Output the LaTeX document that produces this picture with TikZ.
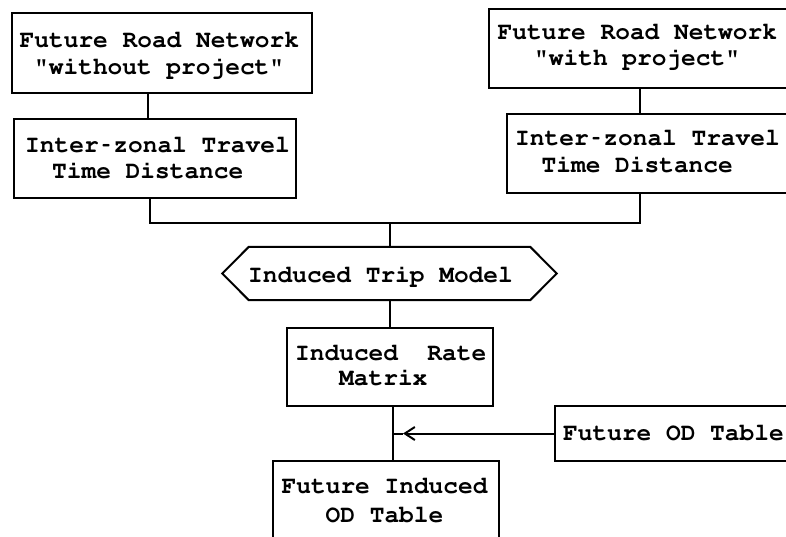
\documentclass[tikz,border=0pt]{standalone}
\usepackage[T1]{fontenc}
\usepackage{courier}
\usetikzlibrary{arrows.meta}

% short typewriter hyphen, one character cell wide
\newcommand{\twhyph}{\makebox[0.6em]{\scalebox{0.55}[1]{-}}}

\tikzset{
  box/.style={draw, line width=2pt, rectangle, inner sep=0pt},
  hexframe/.style={line width=2pt, line join=miter},
  lbl/.style={anchor=base west, inner sep=0pt,
    font=\fontsize{24.5}{27}\selectfont\ttfamily\bfseries},
  link/.style={line width=2pt},
}

\begin{document}
\begin{tikzpicture}[x=1pt,y=-1pt]
\useasboundingbox (0,0) rectangle (786,536);
\fill[white] (0,0) rectangle (786,536);
\clip (0,0) rectangle (786,536);

% boxes
\node[box, minimum width=300pt, minimum height=80pt] (A) at (162,53) {};
\node[box, minimum width=282pt, minimum height=79pt] (B) at (155,158.5) {};
\node[box, minimum width=321pt, minimum height=79pt] (C) at (649.5,48.5) {};
\node[box, minimum width=303pt, minimum height=79pt] (D) at (658.5,153.5) {};
\node[rectangle, inner sep=0pt, minimum width=281pt, minimum height=53pt] (H) at (389.5,273.5) {};
\draw[hexframe] (H.north west) -- (H.north east) -- ([xshift=26.5pt]H.east)
  -- (H.south east) -- (H.south west) -- ([xshift=-26.5pt]H.west) -- cycle;
\node[box, minimum width=206pt, minimum height=78pt] (E) at (390,367) {};
\node[box, minimum width=226pt, minimum height=109pt] (F) at (386,515.5) {};
\node[box, minimum width=255pt, minimum height=55pt] (G) at (682.5,433.5) {};

% labels
\node[lbl] (A1) at (19.5,47) {Future Road Network};
\node[lbl] (A2) at (34,74) {"without project"};
\node[lbl] (B1) at (25,152) {Inter\twhyph zonal Travel};
\node[lbl] (B2) at (52,178) {Time Distance};
\node[lbl] (C1) at (497.5,39) {Future Road Network};
\node[lbl] (C2) at (534,65) {"with project"};
\node[lbl] (D1) at (515,145) {Inter\twhyph zonal Travel};
\node[lbl] (D2) at (541.5,172) {Time Distance};
\node[lbl] (H1) at (248,282) {Induced Trip Model};
\node[lbl] (E1) at (295,360) {Induced\ \ Rate};
\node[lbl] (E2) at (339,385) {Matrix};
\node[lbl] (F1) at (281.5,493) {Future Induced};
\node[lbl] (F2) at (325.5,522) {OD Table};
\node[lbl] (G1) at (563,440) {Future OD Table};

% connectors
\coordinate (bus) at (389.5,223);
\draw[link] ([xshift=-14pt]A.south) -- ([xshift=-14pt]A.south |- B.north);
\draw[link] ([xshift=-5pt]B.south) |- (bus);
\draw[link] ([xshift=-9.5pt]C.south) -- ([xshift=-9.5pt]C.south |- D.north);
\draw[link] ([xshift=-18.5pt]D.south) |- (bus);
\draw[link] (bus) -- (H.north);
\draw[link] (H.south) -- (H.south |- E.north);
\draw[link] ([xshift=3pt]E.south) -- ([xshift=3pt]E.south |- F.north);
\coordinate (merge) at ([xshift=3pt]E.south |- G.west);
\coordinate (tip) at ([xshift=10pt]merge);
\draw[link, -{Straight Barb[length=10pt,width=13pt]}] (G.west) -- (tip);
\draw[link] (tip) -- (merge);
\end{tikzpicture}
\end{document}
